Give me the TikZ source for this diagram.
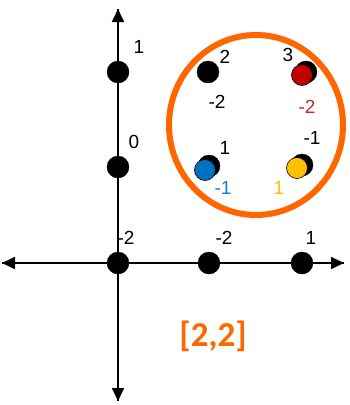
\documentclass[tikz,border=0pt]{standalone}
\usepackage{fontspec}
\setmainfont{Liberation Sans}
\newfontfamily\labelfont{Carlito}
\usetikzlibrary{arrows.meta,positioning}
\definecolor{ringorange}{RGB}{255,102,0}
\definecolor{dotred}{RGB}{192,0,0}
\definecolor{dotblue}{RGB}{0,112,192}
\definecolor{dotyellow}{RGB}{255,192,0}
\definecolor{txtred}{RGB}{200,40,40}
\definecolor{txtblue}{RGB}{30,120,200}
\tikzset{
  dot/.style={draw=black,shape=circle,fill=black,minimum size=22pt,inner sep=0},
  cdot/.style={draw=black,line width=0.6pt,shape=circle,fill=#1,minimum size=21pt,inner sep=0},
  num/.style={font=\fontsize{19}{19}\selectfont,inner sep=0},
  axis/.style={line width=1.8pt,-{Triangle[length=13pt,width=12pt]}}
}
\begin{document}
\begin{tikzpicture}[x=1pt,y=-1pt]
        \useasboundingbox (0,0) rectangle (349,405);
        % axes
        \coordinate (xl) at (2,263);
        \coordinate (xr) at (344,263);
        \coordinate (yt) at (118,9);
        \coordinate (yb) at (118,401);
        \draw[axis] (xl) -- (xr);
        \draw[axis] (xr) -- (xl);
        \draw[axis] (yb) -- (yt);
        \draw[axis] (yt) -- (yb);
        % dots on the axes
        \node[dot] (o) at (118,263) {};
        \node[dot] (y1) at (118,72) {};
        \node[dot] (y0) at (118,167) {};
        \node[dot] (x1) at (209,263) {};
        \node[dot] (x2) at (302,263) {};
        \node[num] (lo) at (126,238) {-2};
        \node[num] (ly1) at (139,47) {1};
        \node[num] (ly0) at (134,142) {0};
        \node[num] (lx1) at (224,238) {-2};
        \node[num] (lx2) at (311,238) {1};
        % the ring
        \draw[ringorange,line width=6pt] (256,125) ellipse [x radius=87, y radius=90];
        % dots in the ring
        \node[dot] (a) at (208,72) {};
        \node[dot] (bs) at (306,72) {};
        \node[cdot=dotred] (b) at (302,75) {};
        \node[dot] (cs) at (209,166) {};
        \node[cdot=dotblue] (c) at (205,170) {};
        \node[dot] (ds) at (302,165) {};
        \node[cdot=dotyellow] (d) at (297,168) {};
        % labels in the ring
        \node[num] (la) at (225,57) {2};
        \node[num] (la2) at (217,102) {-2};
        \node[num] (lb) at (288,55) {3};
        \node[num,txtred] (lb2) at (307,107) {-2};
        \node[num] (lc) at (225,148) {1};
        \node[num,txtblue] (lc2) at (223,188) {-1};
        \node[num] (ld) at (312,138) {-1};
        \node[num,dotyellow] (ld2) at (279,188) {1};
        % the pair
        \node[ringorange,font=\labelfont\bfseries\fontsize{35}{35}\selectfont] (pair) at (213,336) {[2,2]};
      \end{tikzpicture}
\end{document}
